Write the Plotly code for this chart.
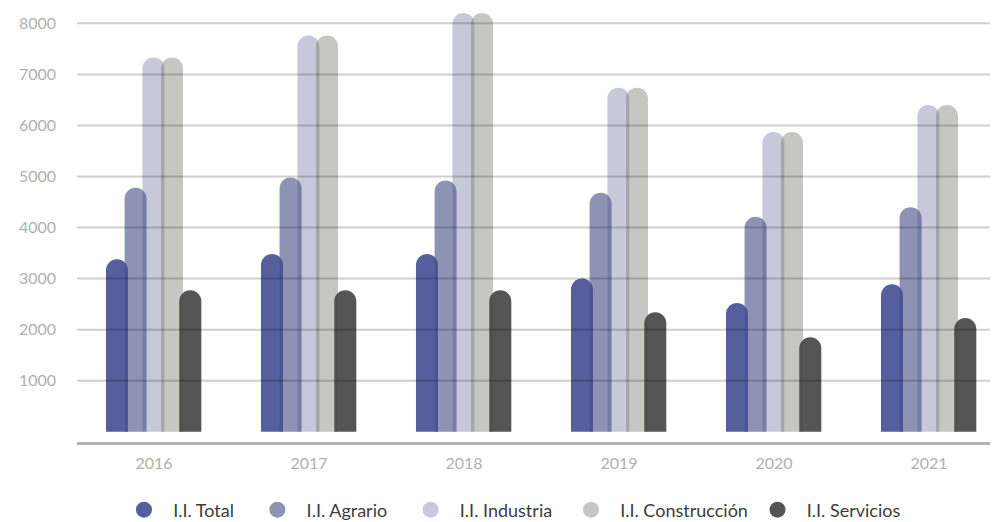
import plotly.graph_objects as go

years = ["2016", "2017", "2018", "2019", "2020", "2021"]
series_names = ["I.I. Total", "I.I. Agrario", "I.I. Industria", "I.I. Construcción", "I.I. Servicios"]
total = [3380, 3480, 3480, 3000, 2520, 2890]
agrario = [4780, 4980, 4920, 4680, 4210, 4400]
industria = [7330, 7760, 8200, 6740, 5870, 6400]
construccion = [7330, 7760, 8200, 6740, 5870, 6400]
servicios = [2770, 2770, 2770, 2340, 1850, 2230]
y_ticks = [1000, 2000, 3000, 4000, 5000, 6000, 7000, 8000]

values = [total, agrario, industria, construccion, servicios]
fills = ["rgba(66,78,148,0.9)", "rgba(67,75,132,0.6)", "rgba(115,120,163,0.4)",
         "rgba(113,115,103,0.4)", "rgba(66,66,66,0.9)"]
legend_colors = ["#555f9f", "#8e93b5", "#c7c9da", "#c6c7c2", "#555555"]
offsets = [-0.31, -0.19, -0.075, 0.045, 0.163]
bar_w = 0.142
draw_order = [2, 3, 4, 1, 0]

xpos = list(range(len(years)))
fig = go.Figure()
for i in draw_order:
    fig.add_trace(go.Bar(
        x=xpos, y=values[i], offset=offsets[i], width=bar_w,
        marker=dict(color=fills[i], line=dict(width=0), cornerradius="50%"),
        showlegend=False, hoverinfo="skip"))

lead = "\u00a0" * 2
pad = ["\u00a0" * 4, "\u00a0" * 4, "\u00a0" * 3, "\u00a0" * 1, ""]
for i, name in enumerate(series_names):
    fig.add_trace(go.Scatter(
        x=[None], y=[None], mode="markers", name=lead + name + pad[i],
        marker=dict(symbol="circle", size=22, color=legend_colors[i]),
        showlegend=True, legendrank=i + 1))

shapes = [dict(type="line", xref="paper", yref="y", x0=0, x1=1, y0=v, y1=v,
               line=dict(color="rgba(0,0,0,0.19)", width=2), layer="above")
          for v in y_ticks]

fig.update_layout(
    width=990, height=514,
    margin=dict(l=69, r=0, t=0, b=80, autoexpand=False),
    paper_bgcolor="white", plot_bgcolor="white",
    barmode="overlay",
    font=dict(family="Lato, Open Sans, sans-serif", color="#aaaaaa", size=15),
    shapes=shapes,
    xaxis=dict(range=[-0.497, 5.445], tickvals=xpos, ticktext=years,
               showgrid=False, zeroline=False, showline=True,
               linecolor="#b3b3b3", linewidth=3, ticks="",
               ticklabelstandoff=5, automargin=False,
               tickfont=dict(size=16, color="#b0b0b0")),
    yaxis=dict(range=[-200, 8300], tickvals=y_ticks, showgrid=False,
               zeroline=False, showline=False, ticks="",
               ticklabelstandoff=20, automargin=False,
               tickfont=dict(size=16, color="#b0b0b0")),
    legend=dict(orientation="h", x=0.051, xanchor="left", y=-0.114, yanchor="top",
                font=dict(size=18, color="#3c3c3c"), itemsizing="trace",
                bgcolor="rgba(0,0,0,0)"),
)

fig.write_html("out.html")
